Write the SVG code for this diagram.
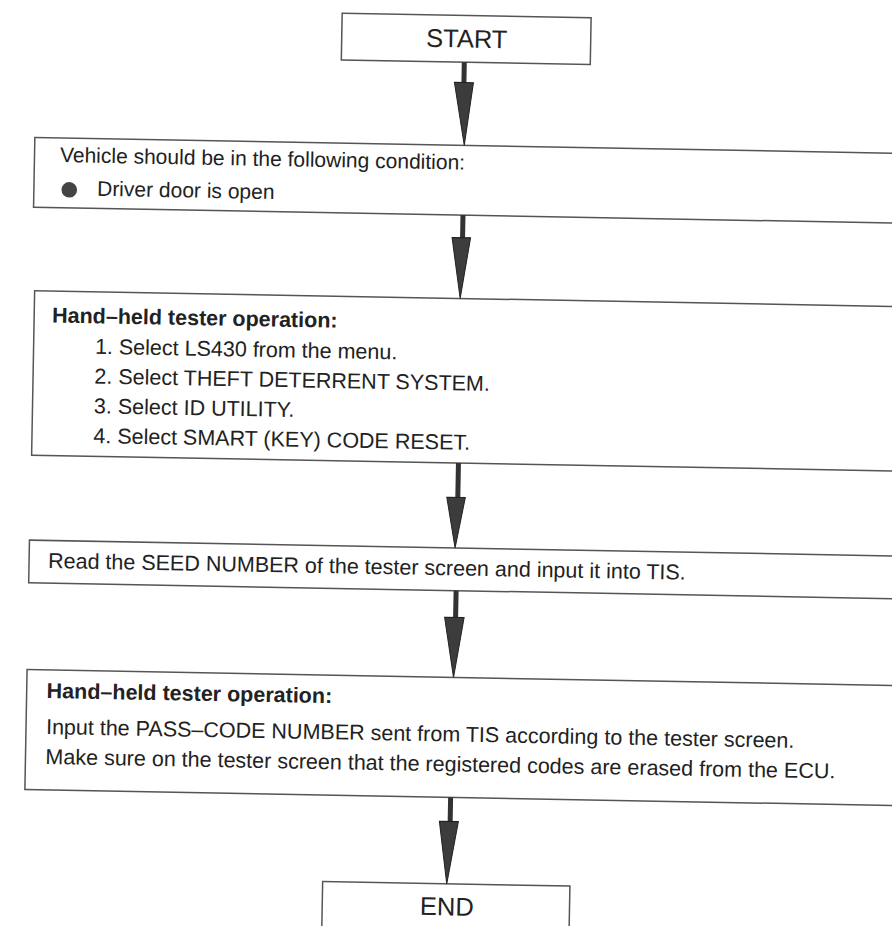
<svg xmlns="http://www.w3.org/2000/svg" width="892" height="926" viewBox="0 0 892 926">
<defs>
<style>
.box{fill:#fff;stroke:#555;stroke-width:1.5}
.t{font-family:"Liberation Sans",Arial,Helvetica,sans-serif;fill:#222;font-size:21.5px}
.b{font-weight:bold}
.big{font-size:25.5px;text-anchor:middle}
.shaft{stroke:#333;stroke-width:5;fill:none}
.head{fill:#3c3c3c;stroke:#222;stroke-width:1;stroke-linejoin:miter}
</style>
</defs>
<rect x="0" y="0" width="892" height="926" fill="#fff"/>
<g transform="rotate(1.05 460 460)">
<g id="start">
<rect class="box" x="334" y="15.5" width="249" height="46.7"/>
<text class="t big" x="459" y="47.5">START</text>
</g>
<g id="condition">
<rect class="box" x="29" y="145.3" width="940" height="69.8"/>
<text class="t" x="54.5" y="169.5" style="font-size:21px">Vehicle should be in the following condition:</text>
<circle cx="64.4" cy="197" r="7.8" fill="#444"/>
<text class="t" x="92.2" y="202.5" style="font-size:21px">Driver door is open</text>
</g>
<g id="tester-op-1">
<rect class="box" x="31.6" y="298.5" width="940" height="164.5"/>
<text class="t b" x="49.5" y="330">Hand–held tester operation:</text>
<text class="t" x="93" y="360.5">1. Select LS430 from the menu.</text>
<text class="t" x="93" y="390.3">2. Select THEFT DETERRENT SYSTEM.</text>
<text class="t" x="93" y="420">3. Select ID UTILITY.</text>
<text class="t" x="93" y="449.7">4. Select SMART (KEY) CODE RESET.</text>
</g>
<g id="seed">
<rect class="box" x="31" y="548" width="940" height="42.7"/>
<text class="t" x="50" y="575.5">Read the SEED NUMBER of the tester screen and input it into TIS.</text>
</g>
<g id="tester-op-2">
<rect class="box" x="31" y="677.5" width="940" height="120"/>
<text class="t b" x="51" y="705.5">Hand–held tester operation:</text>
<text class="t" x="51" y="741.6">Input the PASS–CODE NUMBER sent from TIS according to the tester screen.</text>
<text class="t" x="51" y="771.5">Make sure on the tester screen that the registered codes are erased from the ECU.</text>
</g>
<g id="end">
<rect class="box" x="330.4" y="884" width="247.3" height="80"/>
<text class="t big" x="455" y="915.5">END</text>
</g>
<g id="connectors">
<line class="shaft" x1="457" y1="62.2" x2="457" y2="84"/>
<polygon class="head" points="447.5,82.5 466.5,82.5 458.5,145.3"/>
<line class="shaft" x1="458.5" y1="215" x2="458.5" y2="239"/>
<polygon class="head" points="448,237.7 466.5,237.7 457.2,298.5"/>
<line class="shaft" x1="458.5" y1="463" x2="458.5" y2="499"/>
<polygon class="head" points="447.5,497.5 466,497.5 456.7,548"/>
<line class="shaft" x1="458.5" y1="590.7" x2="458.5" y2="619"/>
<polygon class="head" points="447.5,617.5 467,617.5 457.5,677.5"/>
<line class="shaft" x1="456.8" y1="797.5" x2="456.8" y2="823"/>
<polygon class="head" points="446,821.5 465,821.5 454.5,884"/>
</g>
</g>
</svg>
